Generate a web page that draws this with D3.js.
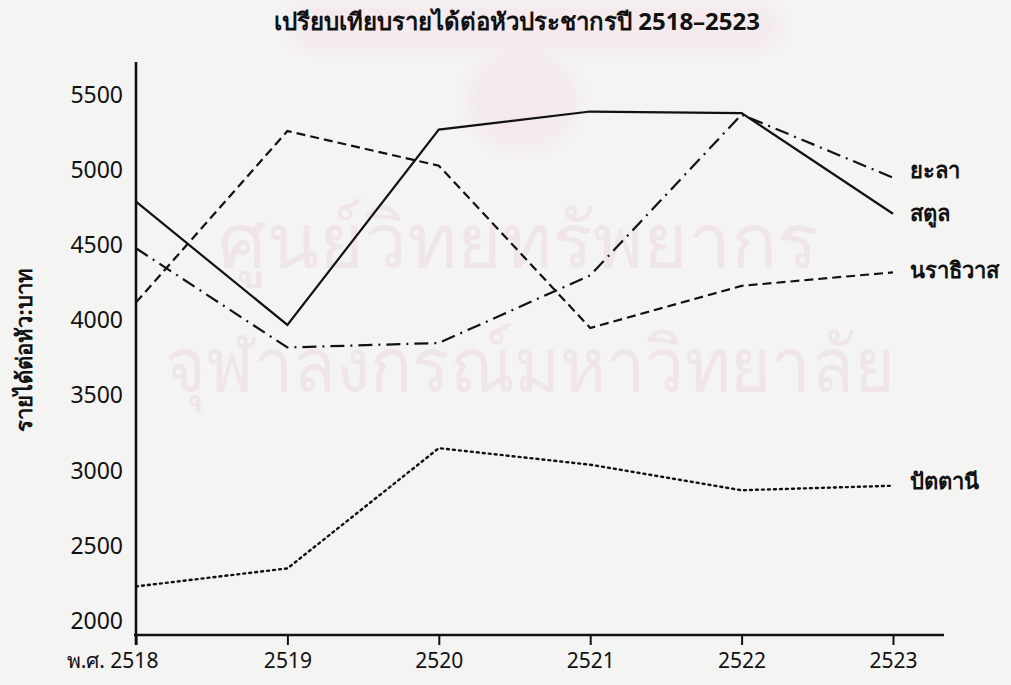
<!DOCTYPE html>
<html>
<head>
<meta charset="utf-8">
<script src="https://cdn.jsdelivr.net/npm/d3@7"></script>
<style>
  html, body { margin: 0; padding: 0; background: #f4f4f2; }
  svg { display: block; }
</style>
</head>
<body>
<script>
// Per-capita income (baht), Buddhist-era years 2518–2523
const years = [2518, 2519, 2520, 2521, 2522, 2523];
const yearLabels = ["พ.ศ. 2518", "2519", "2520", "2521", "2522", "2523"];
const yala = [4480, 3820, 3850, 4300, 5370, 4950];        // ยะลา
const satun = [4790, 3970, 5270, 5390, 5380, 4710];       // สตูล
const narathiwat = [4120, 5260, 5030, 3950, 4230, 4320];  // นราธิวาส
const pattani = [2230, 2350, 3150, 3040, 2870, 2900];     // ปัตตานี
const yTicks = [2000, 2500, 3000, 3500, 4000, 4500, 5000, 5500];

const seriesNames = ["ยะลา", "สตูล", "นราธิวาส", "ปัตตานี"];
const seriesValues = [yala, satun, narathiwat, pattani];
const labelY = [170, 213, 270, 481];
const dashes = ["14,6,2,6", null, "9,5", "2,4"];

const W = 1011, H = 685;
const svg = d3.select("body").append("svg").attr("width", W).attr("height", H);

const defs = svg.append("defs");
defs.append("filter").attr("id", "soft")
  .append("feGaussianBlur").attr("stdDeviation", 8);

// faint library watermark
const wm = svg.append("g").attr("fill", "#f0e5ea");
wm.append("rect").attr("x", 290).attr("y", 2).attr("width", 490).attr("height", 50)
  .attr("rx", 22).attr("fill", "#f5eaee").attr("filter", "url(#soft)");
wm.append("ellipse").attr("cx", 522).attr("cy", 100).attr("rx", 55).attr("ry", 50)
  .attr("fill", "#f4e9ed").attr("filter", "url(#soft)");
wm.append("text").attr("x", 518).attr("y", 268).attr("text-anchor", "middle")
  .attr("font-family", "Noto Sans, sans-serif").attr("font-size", 78)
  .attr("textLength", 600).attr("lengthAdjust", "spacingAndGlyphs")
  .text("ศูนย์วิทยทรัพยากร");
wm.append("text").attr("x", 530).attr("y", 392).attr("text-anchor", "middle")
  .attr("font-family", "Noto Sans, sans-serif").attr("font-size", 78)
  .attr("textLength", 730).attr("lengthAdjust", "spacingAndGlyphs")
  .text("จุฬาลงกรณ์มหาวิทยาลัย");

const x = d3.scalePoint().domain(years).range([136, 893]);
const y = d3.scaleLinear().domain([2000, 5500]).range([621, 95]);
const baseY = 635;

const font = "Noto Sans, DejaVu Sans, sans-serif";

// axes
const xAxis = svg.append("g").attr("transform", `translate(0,${baseY})`)
  .call(d3.axisBottom(x).tickSize(10).tickSizeOuter(0)
    .tickFormat((d, i) => yearLabels[i]));
xAxis.select(".domain").remove();
xAxis.append("line").attr("x1", 134).attr("x2", 944).attr("stroke", "#111").attr("stroke-width", 2.6);
xAxis.selectAll(".tick line").attr("stroke", "#111").attr("stroke-width", 2);
xAxis.selectAll(".tick text").attr("fill", "#111").attr("font-family", font)
  .attr("font-size", 21).attr("dy", "0.9em").attr("y", 14);
xAxis.selectAll(".tick").filter(d => d === 2518).select("text").attr("x", -24);

const yAxis = svg.append("g").attr("transform", "translate(136,0)")
  .call(d3.axisLeft(y).tickValues(yTicks).tickSize(0).tickPadding(13)
    .tickFormat(d3.format("d")));
yAxis.select(".domain").remove();
yAxis.append("line").attr("y1", 62).attr("y2", baseY + 10).attr("stroke", "#111").attr("stroke-width", 2.6);
yAxis.selectAll(".tick text").attr("fill", "#111").attr("font-family", font).attr("font-size", 23);

// series lines
const line = d3.line().x((d, i) => x(years[i])).y(d => y(d));
seriesValues.forEach((vals, k) => {
  const p = svg.append("path").datum(vals).attr("d", line)
    .attr("fill", "none").attr("stroke", "#111")
    .attr("stroke-width", k === 3 ? 2.4 : 2.2);
  if (dashes[k]) p.attr("stroke-dasharray", dashes[k]);
  if (k === 3) p.attr("stroke-linecap", "round");
  svg.append("text").attr("x", 910).attr("y", labelY[k]).attr("dy", "0.35em")
    .attr("font-family", font).attr("font-weight", "bold").attr("font-size", 22)
    .attr("fill", "#111").text(seriesNames[k]);
});

// title
svg.append("text").attr("x", 517).attr("y", 30).attr("text-anchor", "middle")
  .attr("font-family", font).attr("font-weight", "bold").attr("font-size", 24)
  .attr("fill", "#111").text("เปรียบเทียบรายได้ต่อหัวประชากรปี 2518–2523");

// y-axis title
svg.append("text").attr("transform", "translate(24,350) rotate(-90)")
  .attr("text-anchor", "middle").attr("dy", "0.35em")
  .attr("font-family", font).attr("font-weight", "bold").attr("font-size", 22)
  .attr("fill", "#111").text("รายได้ต่อหัว:บาท");
</script>
</body>
</html>
